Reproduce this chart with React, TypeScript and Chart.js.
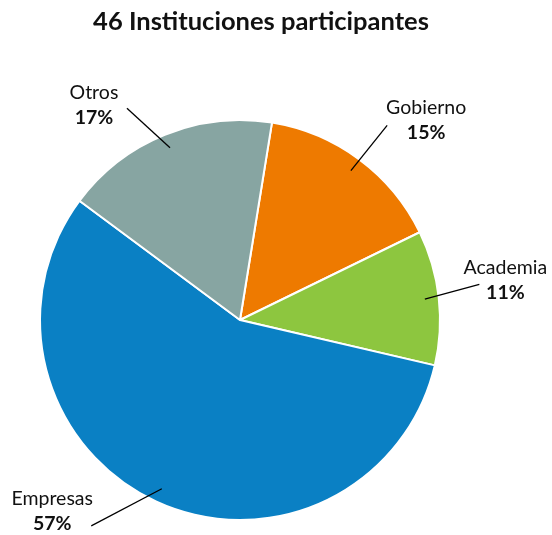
import React, { useEffect, useRef } from "react";
import { Chart, registerables } from "chart.js";

Chart.register(...registerables);

const TITLE = "46 Instituciones participantes";
const categories = ["Gobierno", "Academia", "Empresas", "Otros"];
const values = [7, 5, 26, 8];
const percentLabels = ["15%", "11%", "57%", "17%"];
const colors = ["#EE7A00", "#8DC63F", "#0A80C4", "#87A5A2"];

// styling for leader lines / labels (angle offset in degrees, radius factor, text offset)
const labelStyle = [
  { dAng: 0.5, rf: 1.22, tx: 39, ty: -18 },
  { dAng: -2, rf: 1.21, tx: 26, ty: -17 },
  { dAng: 11, rf: 1.27, tx: -39, ty: -27 },
  { dAng: -6, rf: 1.2, tx: -33, ty: -16 },
];

const FONT = "Lato, 'Open Sans', sans-serif";

const labelPlugin = {
  id: "pieLabels",
  afterDraw(chart: any) {
    const ctx = chart.ctx;
    const meta = chart.getDatasetMeta(0);
    ctx.save();
    // title
    ctx.fillStyle = "#111";
    ctx.font = `bold 25.5px ${FONT}`;
    ctx.textAlign = "center";
    ctx.textBaseline = "middle";
    ctx.fillText(TITLE, 261, 22);
    meta.data.forEach((arc: any, i: number) => {
      const { x, y, startAngle, endAngle, outerRadius } = arc.getProps(
        ["x", "y", "startAngle", "endAngle", "outerRadius"],
        true
      );
      const mid = (startAngle + endAngle) / 2;
      const st = labelStyle[i];
      const ix = x + Math.cos(mid) * outerRadius * 0.93;
      const iy = y + Math.sin(mid) * outerRadius * 0.93;
      const oa = mid + (st.dAng * Math.PI) / 180;
      const ox = x + Math.cos(oa) * outerRadius * st.rf;
      const oy = y + Math.sin(oa) * outerRadius * st.rf;
      ctx.strokeStyle = "#000";
      ctx.lineWidth = 1.3;
      ctx.beginPath();
      ctx.moveTo(ix, iy);
      ctx.lineTo(ox, oy);
      ctx.stroke();
      ctx.fillStyle = "#111";
      ctx.font = `19.5px ${FONT}`;
      ctx.fillText(categories[i], ox + st.tx, oy + st.ty);
      ctx.font = `bold 19.5px ${FONT}`;
      ctx.fillText(percentLabels[i], ox + st.tx, oy + st.ty + 25);
    });
    ctx.restore();
  },
};

export default function App() {
  const ref = useRef<HTMLCanvasElement>(null);
  useEffect(() => {
    if (!ref.current) return;
    const chart = new Chart(ref.current, {
      type: "pie",
      data: {
        labels: categories,
        datasets: [
          {
            data: values,
            backgroundColor: colors,
            borderColor: "#ffffff",
            borderWidth: 2,
          },
        ],
      },
      options: {
        animation: false,
        responsive: false,
        rotation: 9.2,
        layout: { padding: { top: 119, bottom: 14, left: 38, right: 110 } },
        plugins: {
          legend: { display: false },
          title: { display: false },
          tooltip: { enabled: false },
        },
      },
      plugins: [labelPlugin],
    });
    return () => chart.destroy();
  }, []);
  return (
    <div style={{ position: "fixed", left: 0, top: 0, width: 552, height: 535, background: "#fff" }}>
      <canvas ref={ref} width={552} height={535} style={{ width: 552, height: 535 }} />
    </div>
  );
}
